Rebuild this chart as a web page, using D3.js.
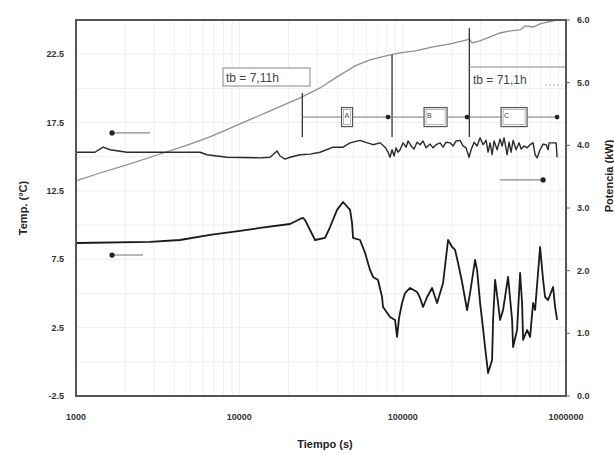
<!DOCTYPE html>
<html><head><meta charset="utf-8">
<script src="https://cdn.jsdelivr.net/npm/d3@7"></script>
<style>body{margin:0;background:#fff} svg{display:block} text{font-family:"Liberation Sans",Arial,sans-serif}</style>
</head><body><svg id="c" width="614" height="454"></svg>
<script>
// ---- data ----
const xTicks = [1000, 10000, 100000, 1000000];
const leftTicks = [-2.5, 2.5, 7.5, 12.5, 17.5, 22.5];
const rightTicks = [0, 1, 2, 3, 4, 5, 6];

// grey rising temperature (left axis)
const tempUpperTime = [1000,1403,2141,3270,4651,6615,10100,15420,23550,31210,39650,51110,63100,83700,96400,119100,153500,195200,247900,255000,266100,297900,343000,394800,454700,523600,561600,628700,694000,776900,882100];
const tempUpperVal = [13.23,13.81,14.47,15.20,15.79,16.45,17.40,18.35,19.30,20.03,20.84,21.64,22.08,22.45,22.59,22.74,23.03,23.25,23.54,23.62,23.32,23.47,23.76,24.05,24.20,24.27,24.57,24.49,24.71,24.86,25.0];

// power (right axis, kW)
const powerTime = [1000,1307,1463,1615,2052,5745,6340,8410,13390,15420,17020,17750,19050,20440,23550,27100,31210,37490,43150,47640,54840,58870,65870,72690,78000,81400,83700,86100,88600,91100,93700,96400,100600,104900,107900,112600,117400,122500,127800,133300,139100,147200,153500,160200,169400,176800,184400,195200,203500,212300,224600,234400,244400,255000,262400,273600,285500,297900,310700,324100,333400,343000,352700,362900,378500,394800,406100,417800,435800,448300,461100,474400,494900,516200,531100,553900,577800,602800,628700,646700,665300,694000,724000,755200,776900,787900,833700,869800,882100];
const powerVal = [3.89,3.89,3.97,3.93,3.89,3.89,3.85,3.81,3.80,3.81,3.91,3.83,3.78,3.81,3.85,3.86,3.89,3.97,3.97,4.04,4.08,4.05,4.01,4.04,3.97,3.89,3.81,3.93,3.83,3.96,3.89,3.93,4.04,3.97,4.07,3.99,3.94,4.05,4.01,4.07,3.96,4.02,3.96,4.01,4.04,3.97,4.05,4.04,3.99,4.07,4.08,3.99,3.96,3.81,3.93,4.05,3.99,4.12,4.01,4.08,3.89,4.04,3.85,4.07,3.93,4.10,3.99,4.12,3.85,4.05,3.89,4.08,3.93,4.04,3.94,3.99,3.96,4.01,4.04,3.85,3.80,3.93,4.02,4.01,3.93,4.04,4.04,4.04,3.81];

// lower temperature (left axis)
const tempLowerTime = [1000,2838,4335,6615,10100,13390,20440,23550,24550,25260,29080,33480,35930,39650,43150,47640,48980,49690,54840,58870,63100,65870,70650,74780,75800,83700,89830,92400,95060,99150,103400,111000,122500,127800,133300,141100,151400,162400,176800,189700,200700,209400,218400,231000,247900,258600,277500,285500,297900,306400,319600,333400,352700,357800,368000,383900,394800,411900,441900,467800,474400,501700,523600,538500,546200,577800,602800,628700,646700,694000,724000,744700,776900,833700,857600,882100];
const tempLowerVal = [8.69,8.77,8.91,9.28,9.57,9.79,10.08,10.45,10.52,10.37,8.91,9.06,9.86,11.11,11.69,11.11,10.15,9.06,8.91,7.96,6.72,6.21,5.99,4.74,4.01,3.28,3.06,1.82,3.21,4.30,5.03,5.40,5.11,4.67,4.01,4.74,5.40,4.30,5.77,8.91,8.40,8.18,7.23,5.84,3.79,5.03,7.45,6.72,4.30,3.06,1.08,-0.82,0.13,3.06,5.99,4.30,3.06,3.79,6.21,3.06,1.08,2.33,6.50,4.30,1.60,2.33,1.82,4.30,3.79,8.40,5.99,4.74,4.52,5.47,4.01,3.06];

// annotations (time in s, level in left-axis units)
const markerTimes = [24300, 86100, 256000];
const markerTops = [19.67, 22.45, 24.42];
const markerBottom = 16.45;
const phaseLevel = 17.9;
const phaseEnds = [81400, 247900, 881700];
const phaseNames = ["A", "B", "C"];
const phaseCenters = [45650, 159000, 481000];
const tbLabels = ["tb = 7,11h", "tb = 71,1h"];

// ---- chart ----
const svg = d3.select("#c");
const L = 76, R = 566, T = 20, B = 396;
const x = d3.scaleLog().domain([1000, 1000000]).range([L, R]);
const yL = d3.scaleLinear().domain([-2.5, 25]).range([B, T]);
const yR = d3.scaleLinear().domain([0, 6]).range([B, T]);

// grid
const g = svg.append("g").attr("stroke", "#efefef").attr("stroke-width", 1);
d3.range(0, 11).map(i => -2.5 + 2.5 * i).filter(v => v > -2.5 && v < 25).forEach(v => {
  g.append("line").attr("x1", L).attr("x2", R).attr("y1", yL(v)).attr("y2", yL(v));
});
[1000, 10000, 100000].forEach(d => {
  for (let m = 1; m <= 9; m++) {
    const t = d * m;
    if (t <= 1000) continue;
    g.append("line").attr("x1", x(t)).attr("x2", x(t)).attr("y1", T).attr("y2", B);
  }
});

// lines
const lineL = (ts, vs) => d3.line().x((d, i) => x(ts[i])).y(d => yL(d))(vs);
const lineR = (ts, vs) => d3.line().x((d, i) => x(ts[i])).y(d => yR(d))(vs);

svg.append("path").attr("d", lineL(tempUpperTime, tempUpperVal))
  .attr("fill", "none").attr("stroke", "#8f8f8f").attr("stroke-width", 1.3);
svg.append("path").attr("d", lineR(powerTime, powerVal))
  .attr("fill", "none").attr("stroke", "#2a2a2a").attr("stroke-width", 1.4).attr("stroke-linejoin", "round");
svg.append("path").attr("d", lineL(tempLowerTime, tempLowerVal))
  .attr("fill", "none").attr("stroke", "#1a1a1a").attr("stroke-width", 1.8).attr("stroke-linejoin", "round");

// annotations
const ann = svg.append("g");
markerTimes.forEach((t, i) => {
  ann.append("line").attr("x1", x(t)).attr("x2", x(t)).attr("y1", yL(markerTops[i])).attr("y2", yL(markerBottom))
    .attr("stroke", "#333").attr("stroke-width", 1.3);
});
ann.append("line").attr("x1", x(markerTimes[0])).attr("x2", x(phaseEnds[2])).attr("y1", yL(phaseLevel)).attr("y2", yL(phaseLevel))
  .attr("stroke", "#777").attr("stroke-width", 1);
phaseEnds.forEach(t => {
  ann.append("circle").attr("cx", x(t)).attr("cy", yL(phaseLevel)).attr("r", 2.4).attr("fill", "#222");
});
const boxW = [11, 23, 26];
phaseNames.forEach((n, i) => {
  const cx = x(phaseCenters[i]), cy = yL(phaseLevel);
  ann.append("rect").attr("x", cx - boxW[i] / 2).attr("y", cy - 9.5).attr("width", boxW[i]).attr("height", 19)
    .attr("fill", "#fff").attr("stroke", "#555").attr("stroke-width", 1.2);
  ann.append("rect").attr("x", cx - boxW[i] / 2 + 2).attr("y", cy - 7.5).attr("width", boxW[i] - 4).attr("height", 15)
    .attr("fill", "none").attr("stroke", "#999").attr("stroke-width", 0.7);
  ann.append("text").attr("x", cx - boxW[i] / 2 + 3).attr("y", cy + 1).attr("font-size", 7).attr("fill", "#444").text(n);
});

// tb labels
ann.append("rect").attr("x", 223).attr("y", 68).attr("width", 87).attr("height", 18)
  .attr("fill", "#fff").attr("stroke", "#888").attr("stroke-width", 1);
ann.append("text").attr("x", 226).attr("y", 82).attr("font-size", 12).attr("fill", "#444").text(tbLabels[0]);
ann.append("line").attr("x1", x(markerTimes[2])).attr("x2", R).attr("y1", 67).attr("y2", 67).attr("stroke", "#888");
ann.append("line").attr("x1", 545).attr("x2", R - 4).attr("y1", 85).attr("y2", 85).attr("stroke", "#bbb").attr("stroke-dasharray", "2,2");
ann.append("text").attr("x", 473).attr("y", 84).attr("font-size", 12).attr("fill", "#444").text(tbLabels[1]);

// axis arrows
const arrows = [
  {t1: 1662, t2: 2838, v: 16.74},
  {t1: 1662, t2: 2571, v: 7.81},
  {t1: 724000, t2: 394800, v: 13.3}
];
arrows.forEach(a => {
  ann.append("line").attr("x1", x(a.t1)).attr("x2", x(a.t2)).attr("y1", yL(a.v)).attr("y2", yL(a.v)).attr("stroke", "#888").attr("stroke-width", 1.2);
  ann.append("circle").attr("cx", x(a.t1)).attr("cy", yL(a.v)).attr("r", 2.6).attr("fill", "#222");
});

// frame
svg.append("rect").attr("x", L).attr("y", T).attr("width", R - L).attr("height", B - T)
  .attr("fill", "none").attr("stroke", "#555").attr("stroke-width", 2);

// axes labels
const lab = svg.append("g").attr("font-size", 9).attr("font-weight", "bold").attr("fill", "#333");
leftTicks.forEach(v => {
  lab.append("text").attr("x", 64).attr("y", yL(v) + 3).attr("text-anchor", "end").text(v.toFixed(1));
});
rightTicks.forEach(v => {
  lab.append("text").attr("x", 577).attr("y", yR(v) + 3).attr("text-anchor", "start").text(v.toFixed(1));
  svg.append("line").attr("x1", R).attr("x2", R + 4).attr("y1", yR(v)).attr("y2", yR(v)).attr("stroke", "#666");
});
xTicks.forEach(v => {
  lab.append("text").attr("x", x(v)).attr("y", 420).attr("text-anchor", "middle").text(String(v));
});

svg.append("text").attr("x", 325).attr("y", 448).attr("text-anchor", "middle").attr("font-size", 11).attr("font-weight", "bold").attr("fill", "#222").text("Tiempo (s)");
svg.append("text").attr("transform", "translate(27,208) rotate(-90)").attr("text-anchor", "middle").attr("font-size", 11).attr("font-weight", "bold").attr("fill", "#222").text("Temp. (°C)");
svg.append("text").attr("transform", "translate(613,176) rotate(-90)").attr("text-anchor", "middle").attr("font-size", 11).attr("font-weight", "bold").attr("fill", "#222").text("Potencia (kW)");
</script></body></html>
